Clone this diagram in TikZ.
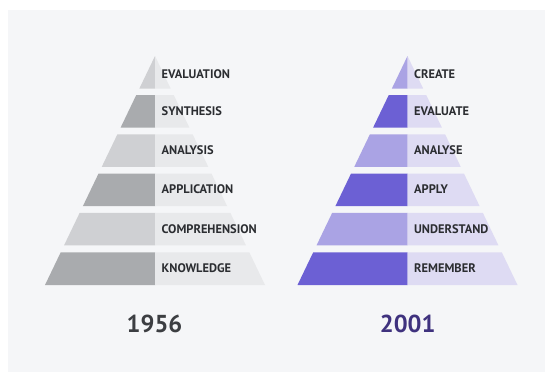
\documentclass[tikz,border=0pt]{standalone}
\usepackage{fontspec}
\setmainfont{Lato}
\newfontfamily\lblfont{PT Sans}
\definecolor{bg}{HTML}{F5F6F8}
\definecolor{gdark}{HTML}{A9ABAE}
\definecolor{glight}{HTML}{CFD0D3}
\definecolor{gright}{HTML}{E8E9EB}
\definecolor{pdark}{HTML}{6C60D4}
\definecolor{plight}{HTML}{AAA3E4}
\definecolor{pright}{HTML}{DEDBF3}
\definecolor{txt}{HTML}{2B2D31}
\definecolor{yeargray}{HTML}{3C3E42}
\definecolor{yearpurple}{HTML}{3F327E}
\tikzset{
  lbl/.style={anchor=west, inner sep=0pt, font=\lblfont\fontsize{12.4}{14}\selectfont\bfseries, text=txt},
  year/.style={inner sep=0pt, font=\lblfont\fontsize{24.5}{28}\selectfont\bfseries}
}
\begin{document}
\begin{tikzpicture}[x=1pt,y=-1pt]
\useasboundingbox (0,0) rectangle (545,372);
\fill[white] (0,0) rectangle (545,372);
\fill[bg] (8,9.5) rectangle (545,372);
\def\ay{56}
\def\by{285}
\def\hw{110}
\foreach \cx/\la/\lb/\ra in {155/glight/gdark/gright, 407.5/plight/pdark/pright}{
  \foreach \t/\b/\c in {56/88.5/\la, 95/127.5/\lb, 134.3/166.8/\la, 173.5/206/\lb, 212.8/245.3/\la, 252.3/285/\lb}{
    \pgfmathsetmacro{\wt}{(\t-\ay)/(\by-\ay)*\hw}
    \pgfmathsetmacro{\wb}{(\b-\ay)/(\by-\ay)*\hw}
    \fill[\c] (\cx-\wt,\t) -- (\cx,\t) -- (\cx,\b) -- (\cx-\wb,\b) -- cycle;
    \fill[\ra] (\cx,\t) -- (\cx+\wt,\t) -- (\cx+\wb,\b) -- (\cx,\b) -- cycle;
  }
}
\node[lbl] (l1) at (161.5,74) {EVALUATION};
\node[lbl] (l2) at (161.5,111.5) {SYNTHESIS};
\node[lbl] (l3) at (161.5,150.5) {ANALYSIS};
\node[lbl] (l4) at (161.5,189.5) {APPLICATION};
\node[lbl] (l5) at (161.5,229) {COMPREHENSION};
\node[lbl] (l6) at (161.5,268.5) {KNOWLEDGE};
\node[lbl] (r1) at (414,74) {CREATE};
\node[lbl] (r2) at (414,111.5) {EVALUATE};
\node[lbl] (r3) at (414,150.5) {ANALYSE};
\node[lbl] (r4) at (414,189.5) {APPLY};
\node[lbl] (r5) at (414,229) {UNDERSTAND};
\node[lbl] (r6) at (414,268.5) {REMEMBER};
\node[year, text=yeargray] (y1) at (154.5,323.5) {1956};
\node[year, text=yearpurple] (y2) at (407.7,323.5) {2001};
\end{tikzpicture}
\end{document}
